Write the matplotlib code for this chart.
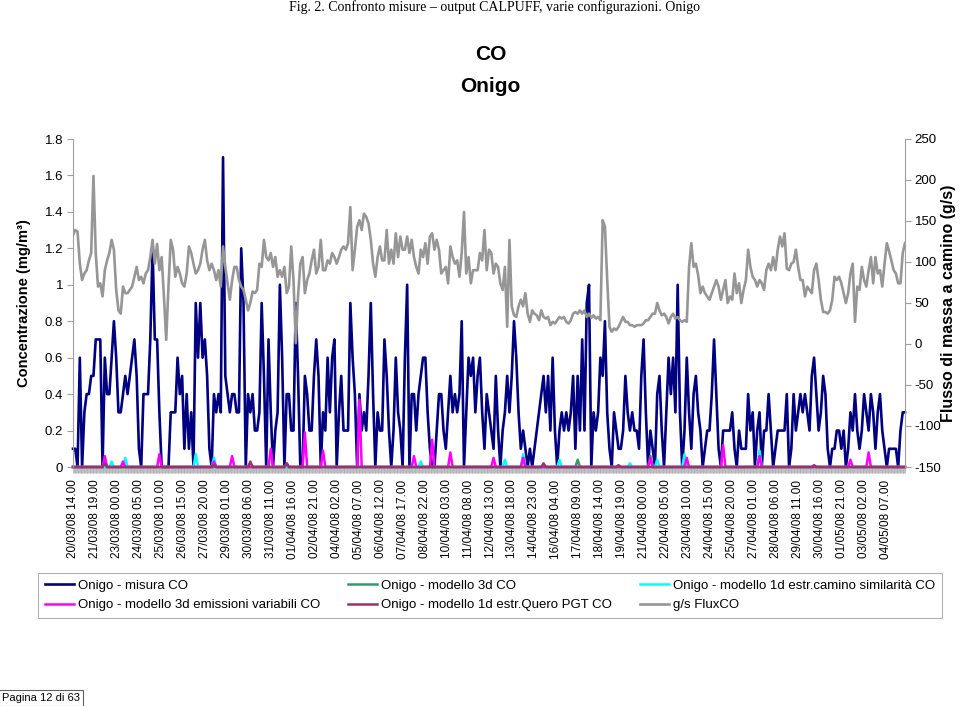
import numpy as np
import matplotlib
matplotlib.use("Agg")
import matplotlib.pyplot as plt
from matplotlib.ticker import FixedLocator, FuncFormatter

plt.rcParams['font.family'] = ['Liberation Sans', 'DejaVu Sans']
plt.rcParams['axes.unicode_minus'] = False

# una lettura ogni 3 ore a partire da 20/03/08 14.00
step_ore = 3

# Onigo - misura CO, in decimi di mg/m3
misura = [
    1, 1, 0, 6, 0, 3, 4, 4, 5, 5,
    7, 7, 7, 0, 6, 4, 4, 6, 8, 6,
    3, 3, 4, 5, 4, 5, 6, 7, 5, 1,
    0, 4, 4, 4, 7, 12, 7, 7, 3, 0,
    0, 0, 0, 3, 3, 3, 6, 4, 5, 1,
    4, 1, 3, 0, 9, 6, 9, 6, 7, 5,
    1, 0, 4, 3, 4, 3, 17, 5, 4, 3,
    4, 4, 3, 3, 12, 9, 0, 4, 3, 4,
    2, 2, 3, 9, 5, 0, 7, 3, 0, 2,
    3, 10, 6, 0, 4, 4, 2, 2, 9, 5,
    0, 0, 5, 4, 2, 2, 5, 7, 5, 0,
    3, 2, 6, 3, 6, 7, 0, 3, 5, 2,
    2, 2, 9, 6, 4, 0, 4, 2, 3, 2,
    5, 9, 4, 0, 3, 2, 2, 7, 5, 2,
    0, 2, 6, 3, 2, 0, 6, 10, 0, 4,
    4, 2, 4, 5, 6, 6, 3, 1, 0, 0,
    2, 4, 4, 2, 1, 3, 5, 3, 4, 3,
    4, 8, 0, 3, 6, 5, 6, 3, 5, 6,
    3, 1, 4, 3, 2, 1, 5, 2, 0, 2,
    3, 5, 3, 5, 8, 6, 3, 1, 2, 1,
    0, 1, 0, 1, 2, 3, 4, 5, 3, 5,
    2, 6, 2, 0, 2, 3, 2, 3, 2, 3,
    5, 1, 5, 2, 7, 2, 9, 10, 0, 3,
    2, 3, 6, 5, 8, 3, 1, 0, 3, 2,
    1, 1, 2, 5, 3, 2, 3, 2, 2, 1,
    5, 7, 3, 0, 2, 1, 0, 4, 5, 2,
    0, 3, 6, 4, 6, 3, 10, 3, 0, 2,
    6, 3, 1, 4, 5, 3, 2, 0, 1, 2,
    2, 4, 7, 4, 1, 0, 2, 2, 2, 2,
    3, 1, 0, 2, 1, 1, 1, 4, 2, 3,
    0, 2, 3, 0, 2, 2, 4, 2, 0, 1,
    2, 2, 2, 2, 4, 0, 1, 4, 2, 3,
    4, 3, 4, 3, 2, 5, 6, 4, 2, 3,
    5, 4, 1, 0, 1, 1, 2, 2, 1, 2,
    0, 1, 3, 2, 4, 2, 1, 2, 4, 3,
    2, 4, 3, 1, 3, 4, 2, 1, 0, 1,
    1, 1, 1, 0, 2, 3, 3,
]

# g/s FluxCO
flusso = [
    133, 139, 137, 98, 78, 86, 90, 102, 111, 205,
    111, 70, 74, 58, 90, 102, 111, 127, 115, 66,
    41, 37, 70, 62, 62, 66, 70, 82, 94, 78,
    82, 74, 86, 90, 106, 127, 98, 122, 90, 106,
    58, 5, 70, 127, 115, 82, 94, 86, 74, 70,
    86, 119, 111, 98, 86, 90, 98, 115, 127, 102,
    90, 98, 90, 78, 90, 70, 119, 94, 74, 54,
    78, 94, 94, 78, 70, 66, 54, 41, 50, 64,
    62, 66, 98, 94, 127, 106, 102, 111, 94, 106,
    82, 90, 82, 94, 62, 70, 119, 78, 1, 58,
    98, 106, 62, 78, 86, 102, 115, 86, 94, 127,
    90, 90, 102, 98, 111, 106, 98, 106, 115, 119,
    115, 123, 167, 90, 115, 143, 151, 139, 159, 155,
    147, 127, 98, 82, 106, 119, 102, 102, 139, 98,
    115, 98, 135, 106, 131, 115, 115, 131, 111, 127,
    106, 94, 86, 115, 106, 123, 98, 131, 135, 115,
    127, 115, 86, 90, 94, 74, 119, 106, 98, 102,
    82, 111, 161, 86, 106, 74, 90, 90, 90, 111,
    102, 139, 90, 115, 111, 86, 98, 94, 74, 66,
    94, 21, 127, 46, 35, 33, 46, 54, 46, 62,
    37, 27, 41, 37, 35, 29, 41, 33, 31, 33,
    23, 27, 25, 29, 33, 31, 33, 27, 25, 29,
    37, 39, 37, 41, 37, 41, 33, 37, 32, 35,
    31, 33, 29, 151, 143, 78, 21, 15, 19, 17,
    21, 27, 33, 27, 27, 23, 23, 21, 23, 23,
    23, 25, 29, 29, 33, 37, 37, 50, 41, 35,
    37, 33, 25, 33, 37, 31, 33, 29, 27, 29,
    27, 94, 123, 94, 98, 84, 62, 70, 62, 58,
    54, 62, 70, 78, 70, 54, 66, 78, 50, 58,
    54, 86, 62, 74, 50, 66, 78, 115, 94, 82,
    78, 70, 78, 74, 66, 90, 98, 90, 106, 90,
    115, 131, 119, 135, 92, 90, 98, 100, 115, 94,
    78, 78, 58, 70, 66, 62, 90, 98, 78, 54,
    39, 39, 37, 41, 54, 82, 78, 82, 74, 62,
    50, 62, 86, 98, 27, 70, 66, 94, 78, 70,
    90, 106, 74, 106, 86, 90, 70, 98, 123, 113,
    102, 90, 86, 74, 74, 111, 123,
]

# modelli: quasi sempre nulli, solo qualche picco (indice lettura, mg/m3)
var3d_idx = [14, 22, 38, 62, 70, 87, 94, 102, 110, 126, 150, 158, 166,
             185, 198, 254, 270, 286, 302, 342, 350]
var3d_val = [0.06, 0.03, 0.07, 0.03, 0.06, 0.10, 0.02, 0.19, 0.09, 0.37,
             0.06, 0.15, 0.08, 0.05, 0.05, 0.05, 0.05, 0.12, 0.06, 0.04, 0.08]
sim1d_idx = [17, 23, 54, 62, 153, 190, 198, 214, 245, 257, 269, 302]
sim1d_val = [0.03, 0.05, 0.07, 0.05, 0.03, 0.04, 0.07, 0.04, 0.02, 0.04,
             0.07, 0.09]
mod3d_idx = [222, 254]
mod3d_val = [0.04, 0.06]
quero_idx = [14, 62, 78, 94, 207, 240, 326]
quero_val = [0.02, 0.01, 0.03, 0.02, 0.02, 0.01, 0.01]

etichette = [
    "20/03/08 14.00", "21/03/08 19.00", "23/03/08 00.00", "24/03/08 05.00",
    "25/03/08 10.00", "26/03/08 15.00", "27/03/08 20.00", "29/03/08 01.00",
    "30/03/08 06.00", "31/03/08 11.00", "01/04/08 16.00", "02/04/08 21.00",
    "04/04/08 02.00", "05/04/08 07.00", "06/04/08 12.00", "07/04/08 17.00",
    "08/04/08 22.00", "10/04/08 03.00", "11/04/08 08.00", "12/04/08 13.00",
    "13/04/08 18.00", "14/04/08 23.00", "16/04/08 04.00", "17/04/08 09.00",
    "18/04/08 14.00", "19/04/08 19.00", "21/04/08 00.00", "22/04/08 05.00",
    "23/04/08 10.00", "24/04/08 15.00", "25/04/08 20.00", "27/04/08 01.00",
    "28/04/08 06.00", "29/04/08 11.00", "30/04/08 16.00", "01/05/08 21.00",
    "03/05/08 02.00", "04/05/08 07.00",
]
passo_etichette = 29  # ore tra due etichette


def serie_picchi(idx, val):
    s = np.zeros(len(misura))
    s[idx] = val
    return s


ore = np.arange(len(misura)) * step_ore
misura_mg = np.array(misura) / 10.0

fig = plt.figure(figsize=(9.6, 7.06), dpi=100)
ax = fig.add_axes([73 / 960, 1 - 467 / 706, (905 - 73) / 960, (467 - 139) / 706])

l_mis, = ax.plot(ore, misura_mg, color="#000080", lw=1.9, clip_on=False)
l_3d, = ax.plot(ore, serie_picchi(mod3d_idx, mod3d_val), color="#339966", lw=1.8, clip_on=False)
l_sim, = ax.plot(ore, serie_picchi(sim1d_idx, sim1d_val), color="#00FFFF", lw=1.8, clip_on=False)
l_var, = ax.plot(ore, serie_picchi(var3d_idx, var3d_val), color="#FF00FF", lw=1.8, clip_on=False)
l_que, = ax.plot(ore, serie_picchi(quero_idx, quero_val), color="#993366", lw=1.8, clip_on=False)

ax.set_xlim(0, ore[-1])
ax.set_ylim(0, 1.8)
ax.set_yticks(np.arange(0, 1.81, 0.2))
ax.yaxis.set_major_formatter(FuncFormatter(lambda v, p: "%g" % round(v, 1)))
ax.set_xticks(np.arange(len(etichette)) * passo_etichette)
ax.set_xticklabels(etichette, rotation=90, fontsize=8.5)
ax.xaxis.set_minor_locator(FixedLocator(np.arange(0, ore[-1] + 1, 1)))
ax.tick_params(axis="x", which="both", direction="out", length=4, width=0.6,
               color="#b4b4b4", pad=5)
ax.tick_params(axis="y", direction="out", length=4, width=0.8, color="#a0a0a0",
               labelsize=9.5, pad=3)
for s in ["top", "bottom", "right"]:
    ax.spines[s].set_visible(False)
ax.spines["left"].set_color("#a0a0a0")
ax.set_ylabel("Concentrazione (mg/m³)", fontsize=10.5, fontweight="bold", labelpad=10)

ax2 = ax.twinx()
l_flx, = ax2.plot(ore, flusso, color="#969696", lw=1.9)
ax2.set_ylim(-150, 250)
ax2.set_yticks(np.arange(-150, 251, 50))
ax2.tick_params(axis="y", direction="out", length=4, width=0.8, color="#a0a0a0",
                labelsize=9.5, pad=3)
for s in ["top", "bottom", "left"]:
    ax2.spines[s].set_visible(False)
ax2.spines["right"].set_color("#a0a0a0")
fig.text(949 / 960, 1 - 303 / 706, "Flusso di massa a camino (g/s)", fontsize=11.5,
         fontweight="bold", rotation=90, ha="center", va="center")

fig.text(0.515, 1 - 7 / 706, "Fig. 2. Confronto misure \u2013 output CALPUFF, varie configurazioni. Onigo",
         family=["Liberation Serif", "DejaVu Serif"], fontsize=10, ha="center", va="center")
fig.text(0.511, 1 - 55 / 706, "CO", fontsize=15, fontweight="bold", ha="center", va="center")
fig.text(0.511, 1 - 87 / 706, "Onigo", fontsize=15, fontweight="bold", ha="center", va="center")

handles = [l_mis, l_var, l_3d, l_que, l_sim, l_flx]
labels = ["Onigo - misura CO", "Onigo - modello 3d emissioni variabili CO",
          "Onigo - modello 3d CO", "Onigo - modello 1d estr.Quero PGT CO",
          "Onigo - modello 1d estr.camino similarità CO", "g/s FluxCO"]
leg = fig.legend(handles, labels, loc="upper left",
                 bbox_to_anchor=(38 / 960, 1 - 623 / 706, (942 - 38) / 960, (623 - 573) / 706),
                 mode="expand", ncol=3, frameon=True, fancybox=False, fontsize=9.5,
                 handlelength=2.2, handletextpad=0.3, borderaxespad=0, labelspacing=0.55,
                 borderpad=0.5)
leg.get_frame().set_edgecolor("#a0a0a0")
leg.get_frame().set_linewidth(0.8)

fig.text(2 / 960, 1 - 698 / 706, "Pagina 12 di 63", fontsize=8, ha="left", va="center",
         bbox=dict(boxstyle="square,pad=0.3", fc="white", ec="#606060", lw=0.8))

fig.savefig("out.png", dpi=100)
